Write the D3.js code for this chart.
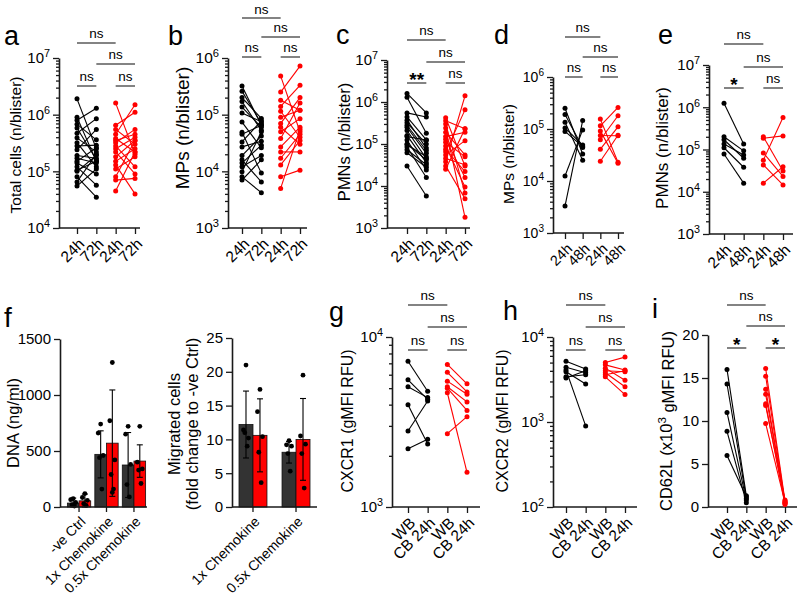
<!DOCTYPE html>
<html><head><meta charset="utf-8">
<script src="https://cdn.jsdelivr.net/npm/d3@7"></script>
<style>
body{margin:0;background:#fff;}
svg text{font-family:"Liberation Sans",Arial,Helvetica,sans-serif;fill:#000;}
</style></head><body>
<svg id="c" width="800" height="599" xmlns="http://www.w3.org/2000/svg"></svg>
<script>
// ---------------- DATA ----------------
const catsTime72 = ["24h","72h","24h","72h"];
const catsTime48 = ["24h","48h","24h","48h"];
const catsWB = ["WB","CB 24h","WB","CB 24h"];

// a: Total cells
const aBlack24 = [1.9e6,9.0e5,8.0e5,6.8e5,5.8e5,4.7e5,3.9e5,3.2e5,2.8e5,2.4e5,1.9e5,1.7e5,1.5e5,1.4e5,1.2e5,1.05e5,1.0e5,8.0e4,6.5e4,5.5e4];
const aBlack72 = [2.5e5,1.5e5,1.3e6,3.6e5,1.6e5,8.5e5,2.2e5,1.2e5,2.9e5,5.5e5,1.7e5,1.4e5,2.6e5,9.0e4,5.7e4,1.5e5,1.9e5,3.5e4,2.0e5,1.1e5];
const aRed24 = [1.6e6,6.5e5,5.5e5,4.5e5,3.8e5,3.5e5,3.2e5,2.8e5,2.5e5,2.2e5,1.8e5,1.5e5,1.3e5,1.1e5,8.0e4,7.0e4,4.5e4];
const aRed72 = [2.0e5,1.1e6,3.0e5,1.5e6,2.2e5,4.5e5,5.5e5,1.2e5,4.0e5,9.0e4,3.5e5,2.5e5,4.0e4,1.8e5,3.5e5,7.5e4,2.2e5];
// b: MPs
const bBlack24 = [3.2e5,2.6e5,2.0e5,1.7e5,1.36e5,1.07e5,7.4e4,4.9e4,4.5e4,3.3e4,2.7e4,1.9e4,1.6e4,1.4e4,1.2e4,9.8e3,8.0e3,7.0e3];
const bBlack72 = [6.5e4,7.0e4,8.6e4,5.3e4,6.0e4,7.5e4,2.6e4,9.3e3,6.5e4,7.8e4,3.4e4,4.2e4,6.5e3,2.9e4,1.9e4,5.0e4,4.2e3,1.6e4];
const bRed24 = [4.8e5,2.5e5,1.8e5,1.4e5,1.15e5,9.0e4,7.0e4,6.0e4,5.0e4,3.8e4,2.7e4,2.2e4,1.7e4,1.3e4,8.0e3,5.0e3];
const bRed72 = [5.0e4,7.2e5,1.2e5,3.3e5,4.0e4,1.2e5,2.0e5,3.0e4,8.5e4,1.6e5,6.0e4,2.2e4,4.5e4,3.5e4,1.05e4,5.5e4];
// c: PMNs
const cBlack24 = [1.6e6,1.3e6,5.5e5,4.4e5,3.7e5,3.2e5,2.5e5,2.1e5,1.6e5,1.25e5,9.6e4,8.5e4,7.3e4,6.2e4,3.0e4,1.5e5,1.0e5,2.8e5];
const cBlack72 = [5.5e5,1.8e5,4.4e5,1.25e5,8.0e4,1.0e5,6.0e4,4.5e4,3.6e4,2.4e4,5.0e4,1.6e4,3.2e4,2.8e4,5.8e3,1.25e5,4.2e4,7.0e4];
const cRed24 = [4.2e5,3.6e5,3.0e5,2.4e5,1.9e5,1.5e5,1.3e5,1.1e5,9.0e4,7.5e4,6.5e4,5.5e4,4.5e4,3.8e4,3.0e4,2.5e4];
const cRed72 = [3.0e4,2.3e5,6.8e3,1.8e3,5.5e4,1.9e5,1.6e4,5.0e4,9.5e3,2.2e4,6.5e5,1.2e5,3.2e4,1.4e6,5.0e3,2.3e5];
// d: MPs
const dBlack24 = [2.5e5,1.9e5,1.35e5,1.05e5,9.0e4,1.25e4,3.3e3];
const dBlack48 = [3.3e4,4.4e4,2.5e4,4.9e4,4.6e4,9.6e4,1.45e5];
const dRed24 = [1.55e5,1.15e5,9.2e4,7.5e4,6.2e4,4.1e4,2.4e4];
const dRed48 = [2.3e4,2.6e5,2.2e4,7.4e4,1.8e5,1.1e5,7.6e4];
// e: PMNs
const eBlack24 = [1.25e6,2.0e5,1.7e5,1.35e5,1.1e5,7.8e4];
const eBlack48 = [1.35e5,9.3e4,6.2e4,7.4e4,3.8e4,1.6e4];
const eRed24 = [2.0e5,1.85e5,8.3e4,5.6e4,4.3e4,1.6e4];
const eRed48 = [3.1e4,2.1e5,2.3e4,5.7e5,1.45e4,3.9e4];
// g: CXCR1
const gBlackWB = [7.2e3,5.6e3,5.1e3,4.0e3,2.8e3,2.2e3];
const gBlackCB = [4.8e3,4.3e3,4.4e3,2.35e3,4.2e3,2.5e3];
const gRedWB = [6.9e3,6.2e3,5.5e3,5.1e3,4.7e3,2.7e3,5.0e3];
const gRedCB = [5.3e3,4.75e3,4.6e3,4.15e3,1.6e3,3.4e3,3.7e3];
// h: CXCR2
const hBlackWB = [5.2e3,4.4e3,4.1e3,3.4e3,3.3e3,3.9e3];
const hBlackCB = [4.2e3,3.8e3,9.0e2,3.6e3,4.0e3,2.8e3];
const hRedWB = [5.0e3,4.7e3,4.3e3,4.0e3,3.8e3,3.4e3,3.6e3];
const hRedCB = [5.8e3,4.1e3,3.1e3,3.9e3,2.6e3,2.1e3,4.0e3];
// i: CD62L (x10^3)
const iBlackWB = [16.0,14.3,11.0,8.8,6.0];
const iBlackCB = [1.3,1.0,0.8,0.5,1.2];
const iRedWB = [16.1,15.2,13.7,13.1,12.0,11.8,9.7];
const iRedCB = [0.7,0.5,0.4,0.6,0.3,0.8,0.5];

// significance labels: [top (0-2), second (1-3), inner left (0-1), inner right (2-3)]
const sigA = ["ns","ns","ns","ns"];
const sigB = ["ns","ns","ns","ns"];
const sigC = ["ns","ns","**","ns"];
const sigD = ["ns","ns","ns","ns"];
const sigE = ["ns","ns","*","ns"];
const sigG = ["ns","ns","ns","ns"];
const sigH = ["ns","ns","ns","ns"];
const sigI = ["ns","ns","*","*"];

// f: DNA
const fCats = ["-ve Ctrl","1x Chemokine","0.5x Chemokine"];
const fDnaMeanBlack = [35,470,375];
const fDnaMeanRed = [55,570,410];
const fDnaSdBlack = [45,210,290];
const fDnaSdRed = [60,475,145];
const fDnaPtsBlack = [[75,65,40,20,8],[740,660,460,440,160],[720,650,380,200,90]];
const fDnaPtsRed = [[120,85,60,30,15],[1290,770,420,290,160,130],[720,400,340,330,210]];
const fDnaTicks = [0,500,1000,1500];
// f: Migrated cells
const fMigCats = ["1x Chemokine","0.5x Chemokine"];
const fMigMeanBlack = [12.2,8.1];
const fMigMeanRed = [10.6,10.0];
const fMigSdBlack = [4.95,1.6];
const fMigSdRed = [5.4,6.05];
const fMigPtsBlack = [[21.0,11.4,10.2,11.0,9.0],[9.8,9.2,9.0,7.9,5.3]];
const fMigPtsRed = [[17.4,14.1,10.4,8.1,3.6],[19.5,10.5,9.3,7.9,2.8]];
const fMigTicks = [0,5,10,15,20,25];
const iTicks = [0,5,10,15,20];

// ---------------- DRAWING ----------------
const svg = d3.select("#c");
const BLACK = "#000000", RED = "#ff0000", AXIS = "#1a1a1a", SIGC = "#5a5a5a";
const isPow10 = t => Math.abs(Math.log10(t) - Math.round(Math.log10(t))) < 1e-9;

function styleAxis(sel, fs){
  sel.attr("font-family", null).attr("font-size", fs);
  sel.selectAll("path.domain").attr("stroke", AXIS).attr("stroke-width", 1.6);
  sel.selectAll(".tick line").attr("stroke", AXIS).attr("stroke-width", 1.3);
  sel.selectAll(".tick text").attr("fill", "#000");
}

function rotLabels(sel, dx, dy){
  sel.selectAll(".tick text")
    .attr("x", 0).attr("y", 0).attr("dy", "0.35em")
    .attr("text-anchor", "end")
    .attr("transform", `translate(${dx},${dy}) rotate(-45)`);
}

function drawYAxis(g, p, y){
  if (p.log){
    const all = y.ticks();
    const majors = all.filter(isPow10), minors = all.filter(t => !isPow10(t));
    g.append("g").attr("transform", `translate(${p.ax},0)`)
      .call(d3.axisLeft(y).tickValues(minors).tickSize(3).tickFormat(""))
      .call(s => { s.select(".domain").remove(); styleAxis(s, p.tickFs); });
    const ma = g.append("g").attr("transform", `translate(${p.ax},0)`)
      .call(d3.axisLeft(y).tickValues(majors).tickSize(6).tickSizeOuter(0).tickPadding(3));
    styleAxis(ma, p.tickFs);
    ma.selectAll(".tick text").each(function(d){
      const t = d3.select(this); t.text("10");
      t.append("tspan").attr("dy", "-0.55em").attr("font-size", "0.72em").text(Math.round(Math.log10(d)));
    });
  } else {
    const ax = g.append("g").attr("transform", `translate(${p.ax},0)`)
      .call(d3.axisLeft(y).tickValues(p.ticks).tickSize(6).tickSizeOuter(0).tickPadding(3).tickFormat(d3.format("d")));
    styleAxis(ax, p.tickFs);
  }
}

function yTitle(g, x, y, fs, lines){
  const t = g.append("text").attr("transform", `translate(${x},${y}) rotate(-90)`)
    .attr("text-anchor", "middle").attr("font-size", fs);
  lines(t);
}

function pairedPanel(p){
  const g = svg.append("g");
  const y = p.log ? d3.scaleLog().domain(p.domain).range([p.bot, p.top])
                  : d3.scaleLinear().domain(p.domain).range([p.bot, p.top]);
  const x = d3.scalePoint().domain([0,1,2,3]).range(p.cats);
  drawYAxis(g, p, y);
  // x axis
  const xa = g.append("g").attr("transform", `translate(0,${p.bot})`)
    .call(d3.axisBottom(x).tickSize(6).tickFormat(i => p.labels[i]));
  xa.select(".domain").remove();
  styleAxis(xa, p.catFs);
  rotLabels(xa, 4, 13);
  g.append("line").attr("x1", p.ax).attr("x2", p.xEnd).attr("y1", p.bot).attr("y2", p.bot)
    .attr("stroke", AXIS).attr("stroke-width", 1.6);
  // pairs
  const groups = [[p.black[0], p.black[1], 0, BLACK], [p.red[0], p.red[1], 2, RED]];
  groups.forEach(([v0, v1, c, col]) => {
    const pairs = v0.map((v, k) => [v, v1[k]]);
    g.append("g").selectAll("line").data(pairs).join("line")
      .attr("x1", x(c)).attr("x2", x(c+1))
      .attr("y1", d => y(d[0])).attr("y2", d => y(d[1]))
      .attr("stroke", col).attr("stroke-width", 1.1);
    g.append("g").selectAll("circle").data(v0).join("circle")
      .attr("cx", x(c)).attr("cy", d => y(d)).attr("r", 2.5).attr("fill", col);
    g.append("g").selectAll("circle").data(v1).join("circle")
      .attr("cx", x(c+1)).attr("cy", d => y(d)).attr("r", 2.5).attr("fill", col);
  });
  // significance
  const spans = [[0,2,p.sigY[0]],[1,3,p.sigY[1]],[0,1,p.sigY[2]],[2,3,p.sigY[2]]];
  spans.forEach(([i0,i1,ly], k) => {
    g.append("line").attr("x1", x(i0)).attr("x2", x(i1)).attr("y1", ly).attr("y2", ly)
      .attr("stroke", SIGC).attr("stroke-width", 1.5);
    const lab = p.sig[k];
    const star = lab.includes("*");
    g.append("text").attr("x", (x(i0)+x(i1))/2).attr("y", star ? ly + 3 : Math.max(ly - 5, 14))
      .attr("text-anchor", "middle").attr("font-size", star ? 19 : 13.5)
      .attr("font-weight", star ? "bold" : "normal").attr("fill", "#222").text(lab);
  });
  // title & letter
  yTitle(g, p.titleX, p.titleY, p.titleFs, t => {
    if (p.titleParts){ p.titleParts(t); } else { t.text(p.title); }
  });
  g.append("text").attr("x", p.lx).attr("y", p.ly).attr("font-size", p.letterFs || 27).text(p.letter);
}

pairedPanel({ax:59, xEnd:140, top:58, bot:228, cats:[77,135], log:true, domain:[1e4,1e7],
  labels:catsTime72, black:[aBlack24,aBlack72], red:[aRed24,aRed72], sig:sigA, sigY:[43,64,86],
  title:"Total cells (n/blister)", titleX:21, titleY:145, titleFs:15.5, tickFs:15, catFs:15.5,
  letter:"a", lx:4, ly:45});
pairedPanel({ax:228, xEnd:307, top:58, bot:228, cats:[242,300], log:true, domain:[1e3,1e6],
  labels:catsTime72, black:[bBlack24,bBlack72], red:[bRed24,bRed72], sig:sigB, sigY:[18,37,57],
  title:"MPs (n/blister)", titleX:189, titleY:128, titleFs:19, tickFs:15.5, catFs:15.5,
  letter:"b", lx:168, ly:45});
pairedPanel({ax:387, xEnd:470, top:60, bot:228, cats:[407,465], log:true, domain:[1e3,1e7],
  labels:catsTime72, black:[cBlack24,cBlack72], red:[cRed24,cRed72], sig:sigC, sigY:[40,62,83],
  title:"PMNs (n/blister)", titleX:350, titleY:142, titleFs:16.5, tickFs:15, catFs:15.5,
  letter:"c", lx:336, ly:44});
pairedPanel({ax:553, xEnd:624, top:77, bot:233, cats:[565,618], log:true, domain:[1e3,1e6],
  labels:catsTime48, black:[dBlack24,dBlack48], red:[dRed24,dRed48], sig:sigD, sigY:[37,57,77],
  title:"MPs (n/blister)", titleX:514, titleY:154, titleFs:15.5, tickFs:14, catFs:14.5,
  letter:"d", lx:494, ly:44});
pairedPanel({ax:709, xEnd:793, top:65, bot:234, cats:[724,783], log:true, domain:[1e3,1e7],
  labels:catsTime48, black:[eBlack24,eBlack48], red:[eRed24,eRed48], sig:sigE, sigY:[44,67,88],
  title:"PMNs (n/blister)", titleX:668, titleY:148, titleFs:17, tickFs:15, catFs:15.5,
  letter:"e", lx:658, ly:44});
pairedPanel({ax:392, xEnd:480, top:337, bot:507, cats:[408,467], log:true, domain:[1e3,1e4],
  labels:catsWB, black:[gBlackWB,gBlackCB], red:[gRedWB,gRedCB], sig:sigG, sigY:[305,327,350],
  title:"CXCR1 (gMFI RFU)", titleX:353, titleY:421, titleFs:16, tickFs:15, catFs:15.5,
  letter:"g", lx:329, ly:321});
pairedPanel({ax:553, xEnd:637, top:337, bot:507, cats:[566,625], log:true, domain:[1e2,1e4],
  labels:catsWB, black:[hBlackWB,hBlackCB], red:[hRedWB,hRedCB], sig:sigH, sigY:[305,327,350],
  title:"CXCR2 (gMFI RFU)", titleX:508, titleY:421, titleFs:16, tickFs:15, catFs:15.5,
  letter:"h", lx:503, ly:320});
pairedPanel({ax:708, xEnd:797, top:335, bot:507, cats:[727,785], log:false, domain:[0,20], ticks:iTicks,
  labels:catsWB, black:[iBlackWB,iBlackCB], red:[iRedWB,iRedCB], sig:sigI, sigY:[305,326,348],
  titleX:672, titleY:421, titleFs:16.5, tickFs:15, catFs:15.5,
  titleParts: t => { t.append("tspan").text("CD62L (x10"); t.append("tspan").attr("dy","-0.5em").attr("font-size","0.7em").text("3");
                     t.append("tspan").attr("dy","0.5em").text(" gMFI RFU)"); },
  letter:"i", lx:652, ly:318});

// ---- bar panels (f) ----
function barPanel(p){
  const g = svg.append("g");
  const y = d3.scaleLinear().domain(p.domain).range([p.bot, p.top]);
  const x = d3.scaleBand().domain(p.cats).range(p.xr).paddingInner(p.pi).paddingOuter(p.po);
  const sub = d3.scaleBand().domain(["black","red"]).range([0, x.bandwidth()]);
  drawYAxis(g, {ax:p.ax, log:false, ticks:p.ticks, tickFs:p.tickFs}, y);
  const xa = g.append("g").attr("transform", `translate(0,${p.bot})`)
    .call(d3.axisBottom(x).tickSize(5));
  xa.select(".domain").remove();
  styleAxis(xa, p.catFs);
  rotLabels(xa, 4, 12);
  const series = [["black", p.meanB, p.sdB, p.ptsB, "#333333"], ["red", p.meanR, p.sdR, p.ptsR, RED]];
  series.forEach(([key, means, sds, pts, col]) => {
    p.cats.forEach((c, k) => {
      const x0 = x(c) + sub(key), w = sub.bandwidth();
      g.append("rect").attr("x", x0).attr("y", y(means[k])).attr("width", w)
        .attr("height", p.bot - y(means[k])).attr("fill", col).attr("stroke", "#111").attr("stroke-width", 0.8);
    });
  });
  series.forEach(([key, means, sds, pts, col]) => {
    p.cats.forEach((c, k) => {
      const w = sub.bandwidth(), cx = x(c) + sub(key) + w/2;
      const lo = Math.max(0, means[k] - sds[k]), hi = means[k] + sds[k];
      g.append("line").attr("x1", cx).attr("x2", cx).attr("y1", y(lo)).attr("y2", y(hi)).attr("stroke", "#000").attr("stroke-width", 1.1);
      [hi, lo].forEach(v => g.append("line").attr("x1", cx-3).attr("x2", cx+3).attr("y1", y(v)).attr("y2", y(v)).attr("stroke", "#000").attr("stroke-width", 1.1));
      const offs = [0, -2.5, 2.5, -1.2, 1.2, 0];
      g.append("g").selectAll("circle").data(pts[k]).join("circle")
        .attr("cx", (d, j) => cx + offs[j % offs.length]).attr("cy", d => y(d)).attr("r", 2.4).attr("fill", "#000");
    });
  });
  g.append("line").attr("x1", p.ax).attr("x2", p.xEnd).attr("y1", p.bot).attr("y2", p.bot)
    .attr("stroke", AXIS).attr("stroke-width", 1.6);
  yTitle(g, p.titleX, p.titleY, p.titleFs, p.title);
  return g;
}

const fg = barPanel({ax:60, xEnd:147, top:339, bot:507, domain:[0,1500], ticks:fDnaTicks,
  cats:fCats, xr:[66,147], pi:0.15, po:0.05, meanB:fDnaMeanBlack, meanR:fDnaMeanRed,
  sdB:fDnaSdBlack, sdR:fDnaSdRed, ptsB:fDnaPtsBlack, ptsR:fDnaPtsRed, tickFs:15, catFs:14,
  titleX:19, titleY:423, titleFs:16.5, title: t => t.text("DNA (ng/ml)")});
barPanel({ax:232, xEnd:317, top:338, bot:507, domain:[0,25], ticks:fMigTicks,
  cats:fMigCats, xr:[239,310], pi:0.35, po:0, meanB:fMigMeanBlack, meanR:fMigMeanRed,
  sdB:fMigSdBlack, sdR:fMigSdRed, ptsB:fMigPtsBlack, ptsR:fMigPtsRed, tickFs:15, catFs:14,
  titleX:180, titleY:424, titleFs:16.5,
  title: t => { t.append("tspan").attr("x",0).attr("dy","0").text("Migrated cells");
                t.append("tspan").attr("x",0).attr("dy","1.1em").text("(fold change to -ve Ctrl)"); }});
fg.append("text").attr("x", 4).attr("y", 327).attr("font-size", 28).text("f");
</script>
</body></html>
